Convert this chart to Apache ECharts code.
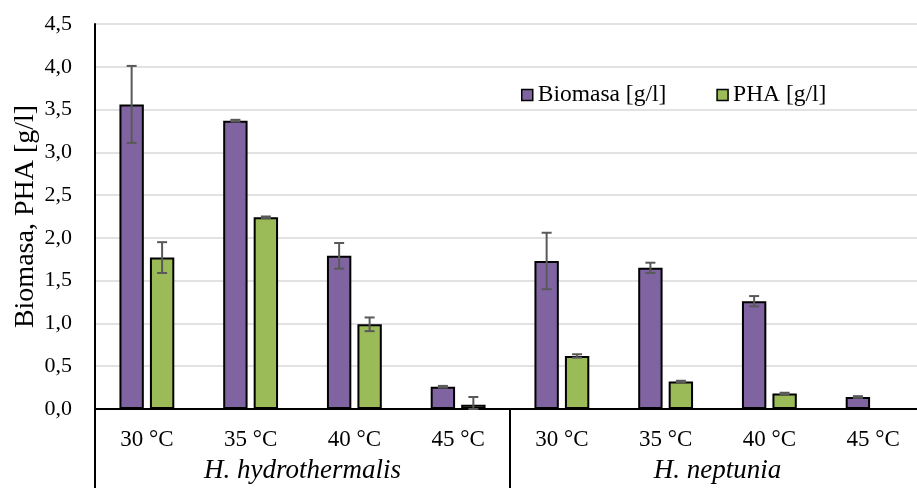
<!DOCTYPE html>
<html>
<head>
<meta charset="utf-8">
<script src="https://cdn.jsdelivr.net/npm/echarts@6/dist/echarts.min.js"></script>
<style>html,body{margin:0;padding:0;background:#fff;}#c{width:917px;height:488px;}</style>
</head>
<body>
<div id="c"></div>
<script>
var categories = ['30 °C', '35 °C', '40 °C', '45 °C', '30 °C', '35 °C', '40 °C', '45 °C'];
var groups = ['H. hydrothermalis', 'H. neptunia'];
var biomasa = [3.56, 3.37, 1.79, 0.26, 1.73, 1.65, 1.26, 0.14];
var biomasaErr = [0.45, 0.01, 0.15, 0.01, 0.33, 0.06, 0.06, 0.01];
var pha = [1.77, 2.24, 0.99, 0.05, 0.62, 0.32, 0.18, 0.0];
var phaErr = [0.18, 0.01, 0.08, 0.09, 0.02, 0.01, 0.01, 0];
var yTicks = [0, 0.5, 1, 1.5, 2, 2.5, 3, 3.5, 4, 4.5];

var FONT = 'Liberation Serif';
var BAR_FRAC = 0.235, GAP_FRAC = 0.25;

function errData(vals, errs) {
  return vals.map(function (v, i) { return [i, v, errs[i]]; });
}
function errRender(side) {
  return function (params, api) {
    var idx = api.value(0), v = api.value(1), e = api.value(2);
    if (!(e > 0)) return;
    var band = api.size([1, 0])[0];
    var bw = band * BAR_FRAC;
    var off = (bw + bw * GAP_FRAC) / 2 * side;
    var c = api.coord([idx, v]);
    var x = c[0] + off;
    var yt = api.coord([idx, v + e])[1];
    var yb = api.coord([idx, Math.max(0, v - e)])[1];
    var hw = 5;
    var st = { stroke: '#595959', lineWidth: 2 };
    return {
      type: 'group',
      children: [
        { type: 'line', shape: { x1: x, y1: yt, x2: x, y2: yb }, style: st },
        { type: 'line', shape: { x1: x - hw, y1: yt, x2: x + hw, y2: yt }, style: st },
        { type: 'line', shape: { x1: x - hw, y1: yb, x2: x + hw, y2: yb }, style: st }
      ]
    };
  };
}

var chart = echarts.init(document.getElementById('c'), null, { renderer: 'canvas' });
chart.setOption({
  animation: false,
  backgroundColor: '#fff',
  grid: { left: 95, right: -8, top: 24, bottom: 79, containLabel: false, outerBoundsMode: 'none' },
  legend: {
    left: 516, top: 78,
    itemWidth: 11, itemHeight: 11, itemGap: 50,
    icon: 'rect',
    textStyle: { fontFamily: FONT, fontSize: 23.5, color: '#000' },
    itemStyle: { borderColor: '#000', borderWidth: 1.5 },
    data: ['Biomasa [g/l]', 'PHA [g/l]']
  },
  xAxis: [
    {
      type: 'category', data: categories, position: 'bottom',
      axisLine: { show: true, lineStyle: { color: '#000', width: 2 } },
      axisTick: { show: false },
      axisLabel: { interval: 0, fontFamily: FONT, fontSize: 23, color: '#000', margin: 19 },
      splitLine: { show: false }
    },
    {
      type: 'category', data: groups, position: 'bottom',
      axisLine: { show: false },
      axisTick: { show: true, length: 79, interval: 0, lineStyle: { color: '#000', width: 2 } },
      axisLabel: { interval: 0, fontFamily: FONT, fontSize: 27, fontStyle: 'italic', color: '#000', margin: 48 },
      splitLine: { show: false }
    }
  ],
  yAxis: {
    type: 'value', min: yTicks[0], max: yTicks[yTicks.length - 1], interval: 0.5,
    name: 'Biomasa, PHA [g/l]', nameLocation: 'middle', nameGap: 55, nameMoveOverlap: false,
    nameTextStyle: { fontFamily: FONT, fontSize: 28, color: '#000' },
    axisLine: { show: true, lineStyle: { color: '#000', width: 2 } },
    axisTick: { show: false },
    axisLabel: {
      fontFamily: FONT, fontSize: 22, color: '#000', margin: 23,
      formatter: function (v) { return v.toFixed(1).replace('.', ','); }
    },
    splitLine: { show: true, lineStyle: { color: '#d9d9d9', width: 1.5 } }
  },
  series: [
    {
      name: 'Biomasa [g/l]', type: 'bar', data: biomasa, xAxisIndex: 0,
      barWidth: (BAR_FRAC * 100) + '%', barGap: (GAP_FRAC * 100) + '%',
      itemStyle: { color: '#8064A2', borderColor: '#000', borderWidth: 2 }
    },
    {
      name: 'PHA [g/l]', type: 'bar', data: pha, xAxisIndex: 0,
      barWidth: (BAR_FRAC * 100) + '%', barGap: (GAP_FRAC * 100) + '%',
      itemStyle: { color: '#9BBB59', borderColor: '#000', borderWidth: 2 }
    },
    {
      type: 'custom', xAxisIndex: 0, z: 10, silent: true,
      renderItem: errRender(-1), data: errData(biomasa, biomasaErr),
      encode: { x: 0, y: 1 }
    },
    {
      type: 'custom', xAxisIndex: 0, z: 10, silent: true,
      renderItem: errRender(1), data: errData(pha, phaErr),
      encode: { x: 0, y: 1 }
    }
  ]
});
</script>
</body>
</html>
